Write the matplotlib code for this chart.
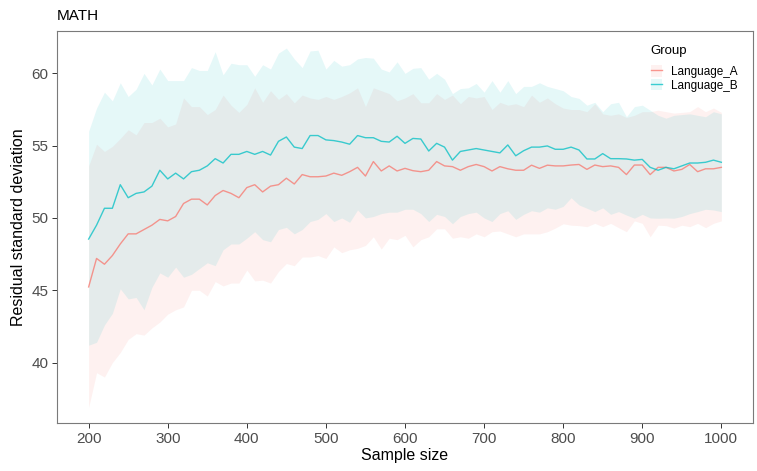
import numpy as np
import matplotlib
matplotlib.use("Agg")
import matplotlib.pyplot as plt
from matplotlib.patches import Patch
from matplotlib.lines import Line2D

plt.rcParams['font.family'] = ['Liberation Sans', 'DejaVu Sans']

sample_size = np.arange(200, 1001, 10)

# Language_A (red)
mean_a = [45.23, 47.2, 46.8, 47.4, 48.2, 48.9, 48.9, 49.2, 49.5, 49.9,
          49.8, 50.1, 51.0, 51.3, 51.3, 50.9, 51.55, 51.9, 51.7, 51.4,
          52.1, 52.3, 51.8, 52.2, 52.3, 52.75, 52.35, 53.0, 52.85, 52.85,
          52.9, 53.1, 52.95, 53.2, 53.5, 52.9, 53.9, 53.25, 53.6, 53.25,
          53.43, 53.27, 53.2, 53.3, 53.9, 53.6, 53.55, 53.3, 53.55, 53.7,
          53.55, 53.25, 53.55, 53.4, 53.3, 53.3, 53.65, 53.43, 53.65, 53.6,
          53.6, 53.66, 53.7, 53.36, 53.66, 53.55, 53.6, 53.5, 53.0, 53.66,
          53.66, 53.0, 53.5, 53.5, 53.25, 53.36, 53.7, 53.2, 53.4, 53.4, 53.5]
upper_a = [53.6, 55.1, 54.6, 54.95, 55.5, 56.1, 55.75, 56.6, 56.6, 56.9,
           56.3, 56.5, 58.3, 57.7, 57.7, 57.15, 57.5, 58.5, 57.8, 57.3,
           57.85, 59.0, 58.0, 58.8, 58.2, 58.6, 57.96, 58.5, 58.3, 58.2,
           58.4, 58.2, 58.4, 58.65, 59.0, 57.7, 59.0, 58.8, 58.6, 58.1,
           58.3, 58.6, 57.97, 57.97, 58.6, 58.2, 58.5, 57.9, 58.4, 58.3,
           58.4, 57.5, 58.0, 57.8, 57.9, 57.7, 58.5, 58.0, 58.3, 57.9,
           57.6, 57.5, 57.5, 57.35, 57.9, 57.2, 57.1, 57.2, 56.95, 57.1,
           57.35, 57.35, 57.45, 57.35, 57.25, 57.3, 57.35, 57.7, 57.35, 57.6, 57.3]
lower_a = [36.9, 39.3, 39.0, 40.0, 40.7, 41.6, 42.0, 41.9, 42.4, 42.8,
           43.35, 43.65, 43.85, 45.0, 45.0, 44.6, 45.6, 45.3, 45.5, 45.5,
           46.4, 45.65, 45.7, 45.5, 46.3, 46.85, 46.7, 47.3, 47.3, 47.4,
           47.2, 48.0, 47.6, 47.8, 47.9, 48.1, 48.7, 47.85, 48.6, 48.5,
           48.8, 48.0, 48.5, 48.7, 49.25, 49.25, 48.6, 48.7, 48.6, 48.9,
           48.7, 49.05, 49.1, 48.9, 48.7, 48.9, 48.9, 48.9, 49.05, 49.3,
           49.6, 49.5, 49.47, 49.4, 49.63, 49.4, 49.63, 49.33, 49.05, 49.8,
           49.63, 48.7, 49.5, 49.47, 49.3, 49.5, 49.4, 49.63, 49.33, 49.63, 49.8]

# Language_B (cyan)
mean_b = [48.54, 49.5, 50.67, 50.67, 52.3, 51.4, 51.7, 51.8, 52.2, 53.3,
          52.7, 53.1, 52.7, 53.2, 53.3, 53.6, 54.1, 53.8, 54.4, 54.4,
          54.6, 54.4, 54.6, 54.35, 55.3, 55.6, 54.9, 54.8, 55.7, 55.7,
          55.4, 55.35, 55.25, 55.1, 55.7, 55.55, 55.55, 55.3, 55.25, 55.65,
          55.16, 55.5, 55.46, 54.63, 55.16, 54.9, 54.0, 54.6, 54.7, 54.8,
          54.7, 54.6, 54.5, 55.05, 54.3, 54.65, 54.9, 54.9, 54.98, 54.75,
          54.75, 54.9, 54.7, 54.08, 54.08, 54.45, 54.1, 54.1, 54.08, 54.0,
          54.05, 53.5, 53.3, 53.5, 53.4, 53.6, 53.8, 53.8, 53.85, 54.0, 53.85]
upper_b = [56.0, 57.6, 58.7, 58.1, 59.35, 58.4, 58.9, 60.0, 59.2, 60.3,
           59.5, 59.5, 59.5, 60.4, 60.2, 60.2, 61.5, 59.9, 60.7, 60.6,
           60.6, 59.8, 60.6, 60.3, 61.4, 61.75, 61.0, 60.4, 61.55, 61.6,
           60.3, 60.9, 60.5, 60.6, 61.0, 61.1, 61.05, 60.3, 60.1, 60.8,
           60.0, 60.35, 60.4, 59.6, 60.0, 59.6, 58.6, 58.95, 59.0, 59.3,
           58.7, 59.5, 58.7, 59.5, 58.6, 59.1, 59.1, 59.35, 59.1, 58.95,
           58.8, 58.4, 58.27, 57.8, 58.0, 57.35, 57.9, 58.0, 57.0, 57.7,
           57.8, 57.45, 57.1, 56.9, 57.1, 57.15, 57.2, 57.1, 57.0, 57.35, 57.2]
lower_b = [41.2, 41.4, 42.6, 43.4, 45.1, 44.4, 44.5, 43.65, 45.2, 46.2,
           45.9, 46.6, 45.9, 46.1, 46.5, 46.9, 46.7, 47.8, 48.2, 48.2,
           48.6, 49.05, 48.5, 48.35, 49.2, 49.35, 48.9, 49.2, 49.75, 49.9,
           50.3, 49.75, 50.0, 49.7, 50.55, 50.0, 50.1, 50.3, 50.4, 50.4,
           50.6, 50.6, 50.3, 49.75, 50.25, 50.1, 49.6, 50.1, 50.3, 50.4,
           50.0, 49.75, 50.3, 50.5, 49.9, 50.25, 50.5, 50.4, 50.7, 50.6,
           50.8, 51.4, 50.9, 50.67, 50.44, 50.7, 50.25, 50.44, 50.2, 49.98,
           50.25, 50.0, 49.98, 50.0, 49.98, 50.1, 50.3, 50.44, 50.6, 50.55, 50.44]

groups = ["Language_A", "Language_B"]
colors = ["#F8766D", "#00BFC4"]
ribbon_alpha = 0.1

fig = plt.figure(figsize=(7.57, 4.71), dpi=100)
ax = fig.add_axes([0.0753, 0.1013, 0.9194, 0.8335])

series = [(mean_a, lower_a, upper_a), (mean_b, lower_b, upper_b)]
for (m, lo, hi), col in zip(series, colors):
    ax.fill_between(sample_size, lo, hi, color=col, alpha=ribbon_alpha, linewidth=0)
for (m, lo, hi), col in zip(series, colors):
    ax.plot(sample_size, m, color=col, lw=1.0, alpha=0.75)

ax.set_xlim(160, 1040)
ax.set_ylim(35.8, 62.95)
ax.set_xticks(range(200, 1001, 100))
ax.set_yticks([40, 45, 50, 55, 60])

for sp in ax.spines.values():
    sp.set_color("#7a7a7a")
    sp.set_linewidth(0.8)
ax.tick_params(axis="both", colors="#333333", labelcolor="#4D4D4D",
               labelsize=11, length=3.5, width=0.7, pad=2.5)

ax.set_xlabel("Sample size", fontsize=11.5, color="black", labelpad=2)
ax.set_ylabel("Residual standard deviation", fontsize=11.5, color="black", labelpad=4)
ax.set_title("MATH", fontsize=11, loc="left", x=-0.0, pad=8)

# legend: title drawn separately to get the ggplot gap under "Group"
handles = []
for col in colors:
    handles.append((Patch(facecolor=col, alpha=ribbon_alpha, edgecolor="none"),
                    Line2D([], [], color=col, lw=1.0, alpha=0.75)))
ax.text(0.853, 0.948, "Group", transform=ax.transAxes, fontsize=9.5,
        ha="left", va="center")
ax.legend(handles, groups, loc="upper left", bbox_to_anchor=(0.853, 0.912),
          frameon=False, fontsize=8.5, borderpad=0, borderaxespad=0,
          handlelength=1.0, handleheight=1.15, handletextpad=0.75,
          labelspacing=0.05)

fig.savefig("out.png", dpi=100)
